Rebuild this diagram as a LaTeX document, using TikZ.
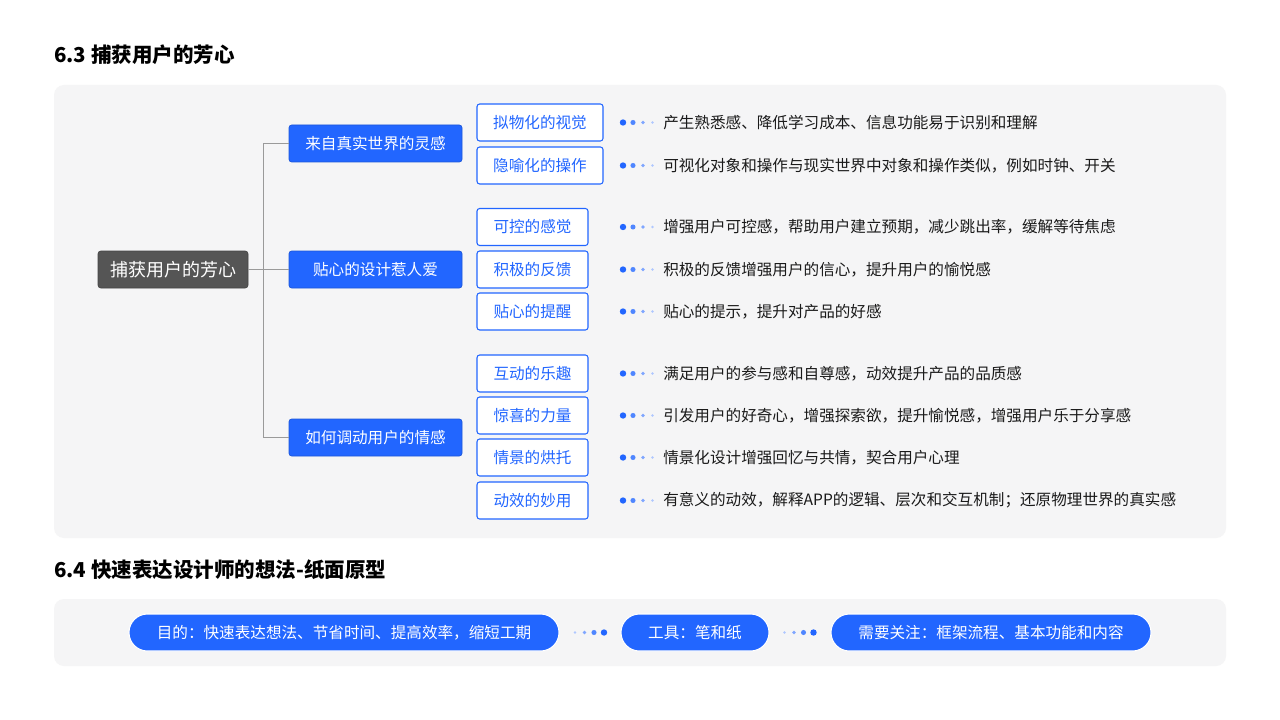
\documentclass[tikz,border=0pt]{standalone}
\usepackage{fontspec}
\setmainfont{Noto Sans CJK SC}
\definecolor{bblue}{HTML}{2266FF}
\definecolor{panel}{HTML}{F5F5F6}
\definecolor{rootc}{HTML}{555555}
\definecolor{linec}{HTML}{9A9A9A}
\definecolor{txt}{HTML}{1A1A1A}
\definecolor{d1}{HTML}{2266FF}
\definecolor{d2}{HTML}{4F86FF}
\definecolor{d3}{HTML}{7FA6FF}
\definecolor{d4}{HTML}{AFC7FF}
\tikzset{
  body/.style={font=\fontsize{11.7pt}{14pt}\selectfont},
  rootbox/.style={body, font=\fontsize{13.5pt}{16pt}\selectfont, fill=rootc, draw=rootc!80!black, text=white, rounded corners=2pt, minimum width=112.5pt, minimum height=27.75pt, inner sep=0pt},
  lvlone/.style={body, fill=bblue, draw=bblue!85!black, line width=0.5pt, text=white, rounded corners=2pt, minimum width=129.75pt, minimum height=27.75pt, inner sep=0pt},
  lvltwo/.style={body, fill=white, draw=bblue, line width=0.8pt, text=bblue, rounded corners=2pt, minimum height=27.75pt, inner sep=0pt},
  widebox/.style={lvltwo, minimum width=94.5pt},
  narrowbox/.style={lvltwo, minimum width=83.25pt},
  desc/.style={body, text=txt, anchor=west, inner sep=0pt},
  pill/.style={body, fill=bblue, draw=white, line width=0.8pt, text=white, rounded corners=13.8pt, minimum height=27.75pt, inner sep=0pt},
  conn/.style={draw=linec, line width=0.8pt},
  title/.style={font=\fontsize{15.4pt}{18pt}\selectfont\bfseries, text=black, anchor=west, inner sep=0pt},
  panelbox/.style={fill=panel, rounded corners=7.5pt}
}
\newcommand{\dotsR}[2]{% big to small, start x, y
  \fill[d1] (#1,#2) circle (2.4pt);
  \fill[d2] (#1+10,#2) circle (1.9pt);
  \fill[d3] (#1+20,#2) circle (1.45pt);
  \fill[d4] (#1+29.5,#2) circle (1.0pt);}
\newcommand{\dotsL}[2]{% small to big
  \fill[d4] (#1,#2) circle (1.0pt);
  \fill[d3] (#1+9.5,#2) circle (1.45pt);
  \fill[d2] (#1+19,#2) circle (1.9pt);
  \fill[d1] (#1+29,#2) circle (2.4pt);}
\begin{document}
\begin{tikzpicture}[x=0.75pt,y=-0.75pt]
\useasboundingbox[fill=white] (0,0) rectangle (1280,720);
% titles
\node[title] (t1) at (54,55) {6.3 捕获用户的芳心};
\node[title] (t2) at (54,570) {6.4 快速表达设计师的想法-纸面原型};
% panels
\fill[panelbox] (54,85) rectangle (1226,538);
\fill[panelbox] (54,599) rectangle (1226,666);
% root and level one
\node[rootbox] (root) at (173,269.5) {捕获用户的芳心};
\node[lvlone] (la) at (375.5,143.5) {来自真实世界的灵感};
\node[lvlone] (lb) at (375.5,269.5) {贴心的设计惹人爱};
\node[lvlone] (lc) at (375.5,437.5) {如何调动用户的情感};
\draw[conn] (root.east) -- (lb.west);
\draw[conn] (la.west) -- ++(-25,0) |- (lc.west);
% level two
\node[widebox] (a1) at (540,122.5) {拟物化的视觉};
\node[widebox] (a2) at (540,165.5) {隐喻化的操作};
\node[narrowbox] (b1) at (532.5,227) {可控的感觉};
\node[narrowbox] (b2) at (532.5,269.5) {积极的反馈};
\node[narrowbox] (b3) at (532.5,311.5) {贴心的提醒};
\node[narrowbox] (c1) at (532.5,373.5) {互动的乐趣};
\node[narrowbox] (c2) at (532.5,415.5) {惊喜的力量};
\node[narrowbox] (c3) at (532.5,457.5) {情景的烘托};
\node[narrowbox] (c4) at (532.5,500.5) {动效的妙用};
% dots and descriptions
\foreach \yy in {122.5,165.5,227,269.5,311.5,373.5,415.5,457.5,500.5}{\dotsR{623}{\yy}}
\node[desc] (da1) at (663,122.5) {产生熟悉感、降低学习成本、信息功能易于识别和理解};
\node[desc] (da2) at (663,165.5) {可视化对象和操作与现实世界中对象和操作类似，例如时钟、开关};
\node[desc] (db1) at (663,227) {增强用户可控感，帮助用户建立预期，减少跳出率，缓解等待焦虑};
\node[desc] (db2) at (663,269.5) {积极的反馈增强用户的信心，提升用户的愉悦感};
\node[desc] (db3) at (663,311.5) {贴心的提示，提升对产品的好感};
\node[desc] (dc1) at (663,373.5) {满足用户的参与感和自尊感，动效提升产品的品质感};
\node[desc] (dc2) at (663,415.5) {引发用户的好奇心，增强探索欲，提升愉悦感，增强用户乐于分享感};
\node[desc] (dc3) at (663,457.5) {情景化设计增强回忆与共情，契合用户心理};
\node[desc] (dc4) at (663,500.5) {有意义的动效，解释APP的逻辑、层次和交互机制；还原物理世界的真实感};
% bottom pills
\node[pill, minimum width=322.5pt] (p1) at (344,632.5) {目的：快速表达想法、节省时间、提高效率，缩短工期};
\node[pill, minimum width=111pt] (p2) at (695,632.5) {工具：笔和纸};
\node[pill, minimum width=240pt] (p3) at (991,632.5) {需要关注：框架流程、基本功能和内容};
\dotsL{575}{632.5}
\dotsL{784.5}{632.5}
\end{tikzpicture}
\end{document}
